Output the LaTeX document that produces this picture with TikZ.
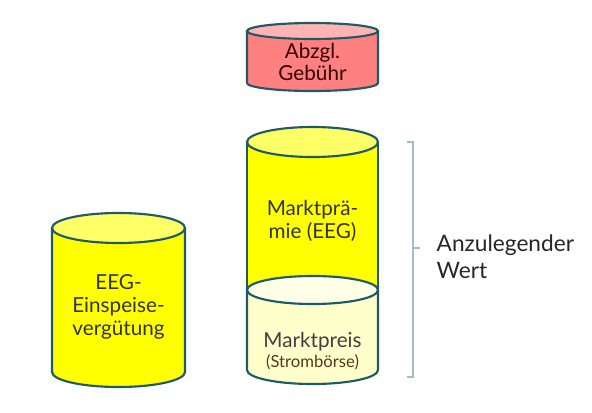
\documentclass[tikz,border=0pt]{standalone}
\usepackage{fontspec}
\setmainfont{Lato}
\definecolor{rim}{HTML}{1F5A66}
\definecolor{brace}{HTML}{9DBFC6}
\definecolor{redbody}{HTML}{FF8080}
\definecolor{redtop}{HTML}{FFB3B3}
\definecolor{yelbody}{HTML}{FFFF00}
\definecolor{yeltop}{HTML}{FFFF66}
\definecolor{palebody}{HTML}{FFFFCC}
\definecolor{paletop}{HTML}{FFFFE8}
\begin{document}
\begin{tikzpicture}[x=0.75pt,y=0.75pt,
  wall/.style={draw=rim, line width=1.6pt},
  label/.style={align=center, font=\fontsize{15.5}{17}\selectfont, text=black!80}]
  \useasboundingbox (0,0) rectangle (592,412);
  % EEG-Einspeiseverguetung
  \begin{scope}[shift={(118.5,0)}]
    \fill[yelbody] (-66.5,184) -- (-66.5,40) arc[start angle=180, end angle=360, x radius=66.5, y radius=15] -- (66.5,184) -- cycle;
    \draw[wall] (-66.5,184) -- (-66.5,40) arc[start angle=180, end angle=360, x radius=66.5, y radius=15] -- (66.5,184);
    \filldraw[wall, fill=yeltop] (0,184) ellipse[x radius=66.5, y radius=15];
    \node[label] (eeg) at (0,105) {EEG-\\Einspeise-\\vergütung};
  \end{scope}
  % Marktpraemie
  \begin{scope}[shift={(312.5,0)}]
    \fill[yelbody] (-65.5,270) -- (-65.5,122) arc[start angle=180, end angle=360, x radius=65.5, y radius=14] -- (65.5,270) -- cycle;
    \draw[wall] (-65.5,270) -- (-65.5,122) -- (65.5,122) -- (65.5,270);
    \filldraw[wall, fill=yeltop] (0,270) ellipse[x radius=65.5, y radius=15];
    \node[label] (praemie) at (0,191) {Marktprä-\\mie (EEG)};
  \end{scope}
  % Marktpreis
  \begin{scope}[shift={(312.5,0)}]
    \fill[palebody] (-65.5,122) -- (-65.5,42) arc[start angle=180, end angle=360, x radius=65.5, y radius=14] -- (65.5,122) -- cycle;
    \draw[wall] (-65.5,122) -- (-65.5,42) arc[start angle=180, end angle=360, x radius=65.5, y radius=14] -- (65.5,122);
    \filldraw[wall, fill=paletop] (0,122) ellipse[x radius=65.5, y radius=14];
    \node[label, text=black!75] (preis) at (0,61) {Marktpreis\\[-2pt]{\fontsize{12.5}{14}\selectfont\color{black!55!brown}(Strombörse)}};
  \end{scope}
  % Abzgl. Gebuehr
  \begin{scope}[shift={(312.5,0)}]
    \fill[redbody] (-65.5,381) -- (-65.5,329) arc[start angle=180, end angle=360, x radius=65.5, y radius=8] -- (65.5,381) -- cycle;
    \draw[wall] (-65.5,381) -- (-65.5,329) arc[start angle=180, end angle=360, x radius=65.5, y radius=8] -- (65.5,381);
    \filldraw[wall, fill=redtop] (0,381) ellipse[x radius=65.5, y radius=8];
    \node[label, text=black!80!red] (abzgl) at (0,350) {Abzgl.\\Gebühr};
  \end{scope}
  % Klammer
  \coordinate (btop) at (413,270);
  \coordinate (bbot) at (413,35);
  \coordinate (bmid) at (413,164);
  \draw[brace, line width=1.2pt] (407,270) -- (btop) -- (bbot) -- (407,35);
  \draw[brace, line width=1.2pt] (bmid) -- (420,164);
  \node[anchor=west, align=left, font=\fontsize{17}{20}\selectfont, text=black!85] (wert) at (432,155) {Anzulegender\\Wert};
\end{tikzpicture}
\end{document}
